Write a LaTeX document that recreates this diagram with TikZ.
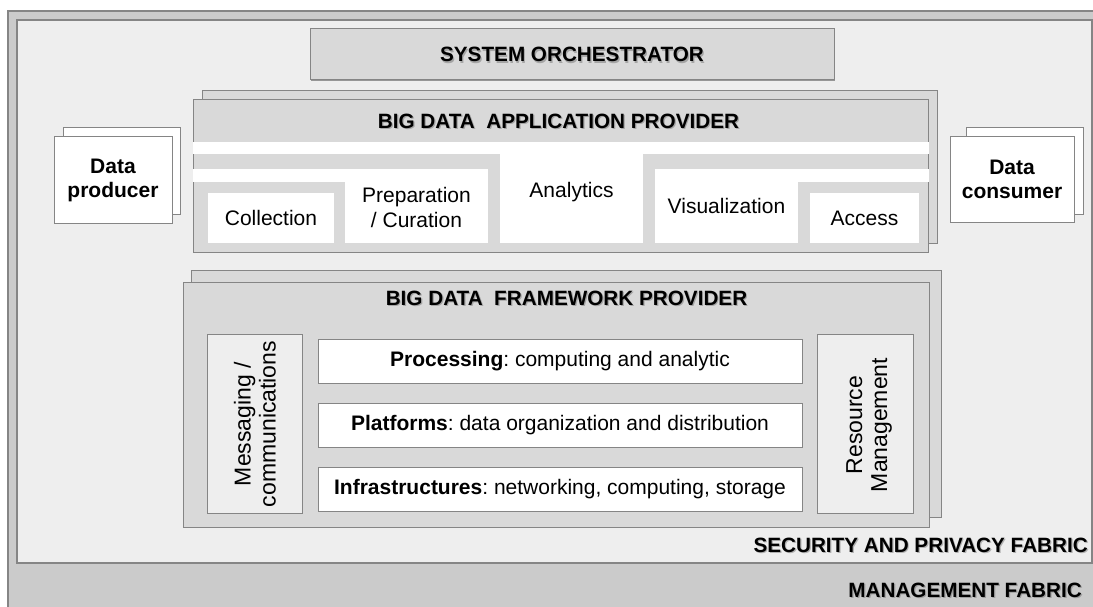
\documentclass[tikz,border=0pt]{standalone}
\usepackage{fontspec}
\setmainfont{Liberation Sans}
\usetikzlibrary{shadows}
\definecolor{mgmt}{HTML}{CBCBCB}
\definecolor{sec}{HTML}{EEEEEE}
\definecolor{gbox}{HTML}{D9D9D9}
\definecolor{edge}{HTML}{858585}
\frenchspacing
\begin{document}
\begin{tikzpicture}[x=1pt,y=-1pt,
  box/.style={draw=edge, line width=1pt, inner sep=0pt, outer sep=0pt, align=center},
  shad/.style={drop shadow={shadow xshift=1.3pt, shadow yshift=-1.3pt, opacity=0.5, fill=black!75}},
  wpiece/.style={fill=white, draw=none, inner sep=0pt, outer sep=0pt, align=center},
  ttl/.style={font=\bfseries\fontsize{20.7}{24}\selectfont, inner sep=0pt},
  ttlsh/.style={font=\bfseries\fontsize{20.7}{24}\selectfont, inner sep=0pt, text=black!60, opacity=0.45},
  body/.style={font=\fontsize{21}{25}\selectfont},
  side/.style={font=\fontsize{23}{25}\selectfont},
  actor/.style={font=\bfseries\fontsize{21}{24}\selectfont}
]
\path[use as bounding box] (0,0) rectangle (1093,607);
\clip (0,0) rectangle (1093,607);

% fabrics
\node[box, fill=mgmt, line width=1.2pt, minimum width=1110pt, minimum height=620pt, anchor=north west] (mgmt) at (8,11) {};
\node[box, fill=sec, line width=1.2pt, minimum width=1075pt, minimum height=543pt, anchor=north west] (sec) at (17,20) {};

% system orchestrator
\node[box, fill=gbox, shad, minimum width=524pt, minimum height=51pt] (orch) at (572,54.5) {};
\node[ttlsh] (orchs) at (573.2,56) {SYSTEM ORCHESTRATOR};
\node[ttl] (orcht) at (572,54.5) {SYSTEM ORCHESTRATOR};

% application provider
\node[box, fill=gbox, minimum width=735pt, minimum height=152pt] (appb) at (569.5,167) {};
\node[box, fill=gbox, shad, minimum width=735pt, minimum height=152pt] (app) at (560.5,176) {};
\node[ttlsh] (apps) at (559.7,122.5) {BIG DATA\ \ APPLICATION PROVIDER};
\node[ttl] (appt) at (558.5,121) {BIG DATA\ \ APPLICATION PROVIDER};
\fill[white] (192.5,142) rectangle (928.5,154);
\fill[white] (192.5,169) rectangle (345,182);
\fill[white] (655,169) rectangle (928.5,182);
\node[wpiece, minimum width=126pt, minimum height=50pt] (coll) at (271,218) {};
\node[body] at (coll) {Collection};
\node[wpiece, minimum width=143pt, minimum height=74pt] (prep) at (416.5,206) {};
\node[body, align=center] at (416.5,207.5) {Preparation\\/ Curation};
\node[wpiece, minimum width=143pt, minimum height=101pt] (anal) at (571.5,192.5) {};
\node[body] at (anal) {Analytics};
\node[wpiece, minimum width=143pt, minimum height=74pt] (vis) at (726.5,206) {};
\node[body] at (vis) {Visualization};
\node[wpiece, minimum width=109pt, minimum height=50pt] (acc) at (864.5,218) {};
\node[body] at (acc) {Access};

% data producer / consumer
\node[box, fill=white, minimum width=117pt, minimum height=86pt] (prodb) at (121.5,171) {};
\node[box, fill=white, shad, minimum width=118pt, minimum height=86pt] (prod) at (113,180) {};
\node[actor, align=center] at (prod) {Data\\producer};
\node[box, fill=white, minimum width=117pt, minimum height=86pt] (consb) at (1024.5,171) {};
\node[box, fill=white, shad, minimum width=124pt, minimum height=85pt] (cons) at (1012,179.5) {};
\node[actor, align=center] at (cons) {Data\\consumer};

% framework provider
\node[box, fill=gbox, minimum width=750pt, minimum height=247pt] (fwb) at (566,393.5) {};
\node[box, fill=gbox, shad, minimum width=746pt, minimum height=245pt] (fw) at (556,404.5) {};
\node[ttlsh] (fws) at (567.7,299.5) {BIG DATA\ \ FRAMEWORK PROVIDER};
\node[ttl] (fwt) at (566.5,298) {BIG DATA\ \ FRAMEWORK PROVIDER};

\node[box, fill=sec, minimum width=95pt, minimum height=179pt] (msg) at (254.5,423.5) {};
\node[side, rotate=90, align=center] at (255,424) {Messaging /\\communications};
\node[box, fill=sec, minimum width=96pt, minimum height=179pt] (res) at (865,423.5) {};
\node[side, rotate=90, align=center] at (869,425) {Resource\\Management};

\node[box, fill=white, minimum width=484pt, minimum height=44pt, font=\fontsize{21}{25}\selectfont] (proc) at (560,361) {\textbf{Processing}: computing and analytic};
\node[box, fill=white, minimum width=484pt, minimum height=44pt, font=\fontsize{21}{25}\selectfont] (plat) at (560,425) {\textbf{Platforms}: data organization and distribution};
\node[box, fill=white, minimum width=484pt, minimum height=44pt, font=\fontsize{21}{25}\selectfont] (infra) at (560,489) {\textbf{Infrastructures}: networking, computing, storage};

% fabric labels
\node[ttlsh, anchor=east] (secs) at (1089.2,546.5) {SECURITY AND PRIVACY FABRIC};
\node[ttl, anchor=east] (sect) at (1088,545) {SECURITY AND PRIVACY FABRIC};
\node[ttlsh, anchor=east] (mgmts) at (1083.2,591.5) {MANAGEMENT FABRIC};
\node[ttl, anchor=east] (mgmtt) at (1082,590) {MANAGEMENT FABRIC};
\end{tikzpicture}
\end{document}
